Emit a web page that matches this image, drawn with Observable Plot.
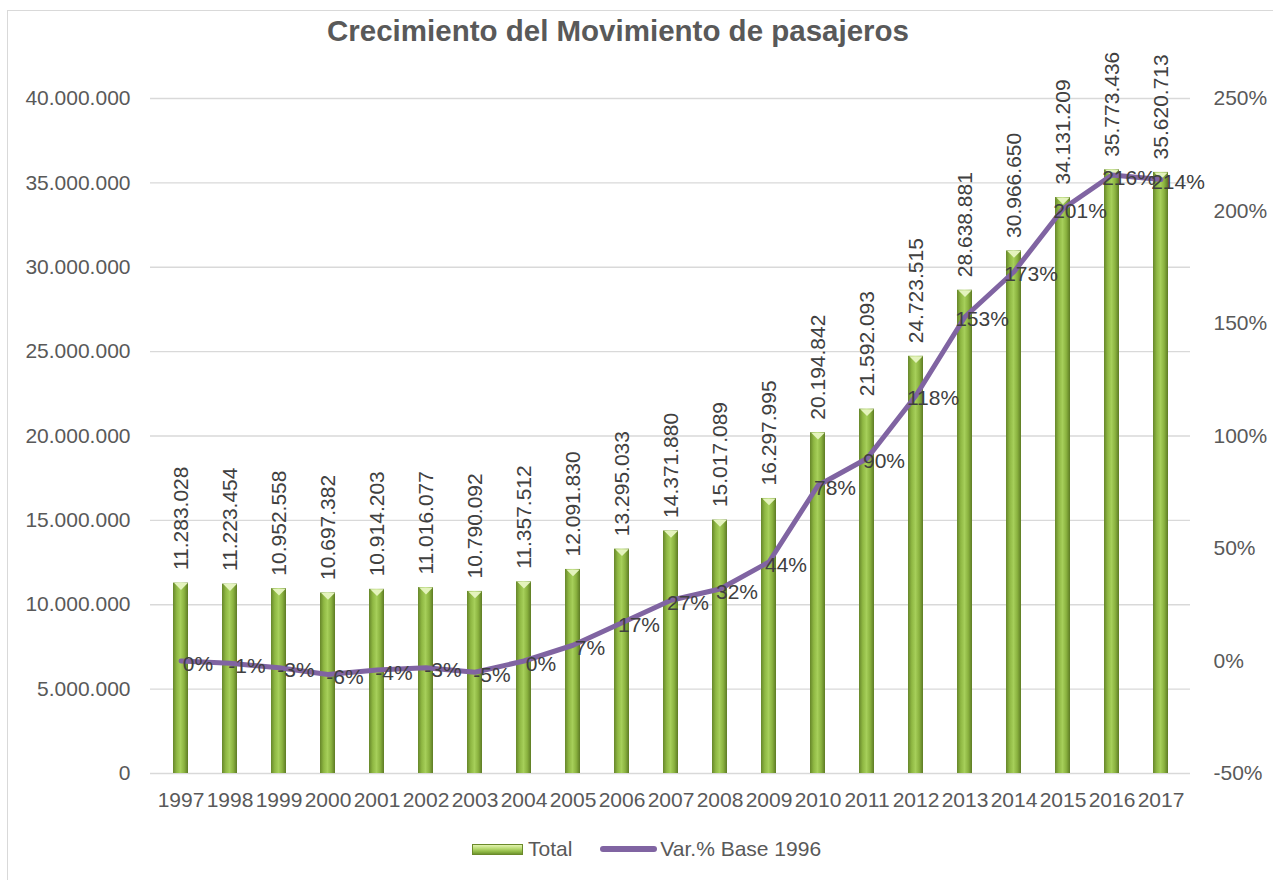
<!DOCTYPE html>
<html>
<head>
<meta charset="utf-8">
<script src="https://cdn.jsdelivr.net/npm/d3@7"></script>
<script src="https://cdn.jsdelivr.net/npm/@observablehq/plot@0.6"></script>
<style>
  html, body { margin: 0; padding: 0; background: #fff; }
  body { font-family: "Liberation Sans", Arial, sans-serif; width: 1273px; height: 880px; position: relative; overflow: hidden; }
  #frame { position: absolute; left: 7px; top: 10px; width: 1320px; height: 900px; border: 1px solid #d9d9d9; box-sizing: border-box; }
  #title { position: absolute; left: 0; width: 1236px; top: 14px; text-align: center; font-weight: bold; font-size: 29.5px; color: #595959; line-height: 34px; }
  #chart { position: absolute; left: 0; top: 0; }
  #legend { position: absolute; left: 472px; top: 837px; height: 24px; display: flex; align-items: center; font-size: 21px; color: #595959; }
  .sw-bar { width: 49px; height: 9px; border: 1px solid #6b8a2a; background: linear-gradient(to bottom, #e2f2b0 0%, #b8da72 40%, #8fb844 75%, #6f9430 100%); margin-right: 5px; }
  .sw-line { width: 57px; height: 6px; border-radius: 3px; background: #8064a2; margin-left: 28px; margin-right: 3px; }
</style>
</head>
<body>
<div id="frame"></div>
<div id="chart"></div>
<div id="title">Crecimiento del Movimiento de pasajeros</div>
<div id="legend"><div class="sw-bar"></div><span>Total</span><div class="sw-line"></div><span>Var.% Base 1996</span></div>
<script>
const years = ["1997","1998","1999","2000","2001","2002","2003","2004","2005","2006","2007","2008","2009","2010","2011","2012","2013","2014","2015","2016","2017"];
const totals = [11283028, 11223454, 10952558, 10697382, 10914203, 11016077, 10790092, 11357512, 12091830, 13295033, 14371880, 15017089, 16297995, 20194842, 21592093, 24723515, 28638881, 30966650, 34131209, 35773436, 35620713];
const variation = [0, -1, -3, -6, -4, -3, -5, 0, 7, 17, 27, 32, 44, 78, 90, 118, 153, 173, 201, 216, 214];
const leftTicks = [0, 5000000, 10000000, 15000000, 20000000, 25000000, 30000000, 35000000, 40000000];
const pctTicks = [-50, 0, 50, 100, 150, 200, 250];

const locale = d3.formatLocale({decimal: ",", thousands: ".", grouping: [3], currency: ["", "€"]});
const fmt = locale.format(",d");

const yMax = 40000000, pMin = -50, pMax = 250;
const toY = p => (p - pMin) / (pMax - pMin) * yMax;
const fromY = v => Math.round(v / yMax * (pMax - pMin) + pMin);

const data = years.map((y, i) => ({year: y, total: totals[i], pct: variation[i]}));

const capSymbol = {
  draw(ctx, size) {
    const s = Math.sqrt(size);
    ctx.moveTo(-0.85 * s, 0);
    ctx.lineTo(0.85 * s, 0);
    ctx.lineTo(0, 0.85 * s);
    ctx.closePath();
  }
};

const chart = Plot.plot({
  width: 1273,
  height: 830,
  marginTop: 98,
  marginBottom: 57,
  marginLeft: 150,
  marginRight: 83,
  style: {fontFamily: "'Liberation Sans', Arial, sans-serif", fontSize: "21px", color: "#595959", background: "transparent", overflow: "visible"},
  x: {domain: years, paddingInner: 0.7, paddingOuter: 0.35, label: null},
  y: {domain: [0, yMax], label: null},
  marks: [
    Plot.gridY(leftTicks, {stroke: "#d9d9d9", strokeOpacity: 1, strokeWidth: 1.3}),
    Plot.axisY(leftTicks, {anchor: "left", tickSize: 0, tickPadding: 20, tickFormat: fmt, label: null, fontSize: 21}),
    Plot.axisY(pctTicks.map(toY), {anchor: "right", tickSize: 0, tickPadding: 23, tickFormat: v => fromY(v) + "%", label: null, fontSize: 21}),
    Plot.axisX({tickSize: 0, tickPadding: 19, label: null, fontSize: 21}),
    Plot.barY(data, {x: "year", y: "total", fill: "url(#barGrad)"}),
    Plot.dot(data, {x: "year", y: "total", symbol: capSymbol, r: 4.5, fill: "#e4f3bd", stroke: "none"}),
    Plot.line(data, {x: "year", y: d => toY(d.pct), stroke: "#8064a2", strokeWidth: 5, strokeLinejoin: "round", strokeLinecap: "round"}),
    Plot.text(data, {x: "year", y: "total", text: d => fmt(d.total), rotate: -90, textAnchor: "start", dy: -13, fill: "#404040", fontSize: 21}),
    Plot.text(data, {x: "year", y: d => toY(d.pct), text: d => d.pct + "%", dx: 17, dy: 3, fill: "#404040", fontSize: 21})
  ]
});

const defs = d3.select(chart).insert("defs", ":first-child");
const g = defs.append("linearGradient").attr("id", "barGrad").attr("x1", 0).attr("x2", 1).attr("y1", 0).attr("y2", 0);
[["0%", "#66862a"], ["25%", "#8fb843"], ["50%", "#a6cf5a"], ["75%", "#8ab23f"], ["100%", "#5d7b24"]].forEach(([o, c]) => g.append("stop").attr("offset", o).attr("stop-color", c));

document.getElementById("chart").appendChild(chart);
</script>
</body>
</html>
